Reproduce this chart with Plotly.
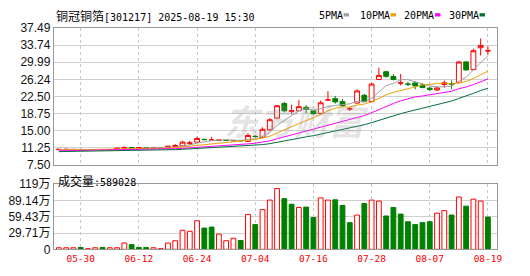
import plotly.graph_objects as go

# ---------------- data ----------------
dates = ["05-27", "05-28", "05-29", "05-30", "06-03", "06-04", "06-05", "06-06", "06-09", "06-10",
         "06-11", "06-12", "06-13", "06-16", "06-17", "06-18", "06-19", "06-20", "06-23", "06-24",
         "06-25", "06-26", "06-27", "06-30", "07-01", "07-02", "07-03", "07-04", "07-07", "07-08",
         "07-09", "07-10", "07-11", "07-14", "07-15", "07-16", "07-17", "07-18", "07-21", "07-22",
         "07-23", "07-24", "07-25", "07-28", "07-29", "07-30", "07-31", "08-01", "08-04", "08-05",
         "08-06", "08-07", "08-08", "08-11", "08-12", "08-13", "08-14", "08-15", "08-18", "08-19"]

opens = [10.85, 10.85, 10.88, 10.90, 10.85, 10.86, 10.88, 10.84, 10.90, 11.20,
         11.30, 11.20, 11.24, 11.18, 11.20, 11.22, 11.55, 11.70, 12.28, 12.50,
         13.10, 12.95, 12.90, 12.92, 12.80, 12.85, 12.65, 13.78, 13.55, 15.20,
         17.75, 20.93, 19.25, 19.35, 20.10, 19.35, 18.75, 21.70, 22.00, 21.35,
         19.75, 21.05, 22.75, 21.35, 26.20, 27.90, 26.85, 25.40, 25.20, 25.45,
         25.00, 24.30, 23.90, 25.10, 25.25, 25.50, 30.05, 28.35, 33.15, 32.45]
highs = [10.95, 10.95, 10.92, 10.92, 10.88, 10.90, 10.90, 10.88, 11.25, 11.55,
         11.40, 11.30, 11.26, 11.22, 11.24, 11.68, 12.05, 12.77, 12.77, 13.66,
         13.25, 13.66, 13.00, 12.95, 12.90, 12.90, 14.45, 14.00, 15.72, 17.75,
         20.60, 21.30, 20.70, 21.75, 20.60, 19.50, 21.60, 23.65, 22.60, 21.90,
         20.20, 24.05, 23.05, 25.50, 28.80, 28.10, 27.40, 27.40, 25.70, 25.75,
         25.40, 24.65, 24.70, 26.00, 26.00, 30.20, 30.20, 32.95, 35.20, 33.40]
lows = [10.80, 10.82, 10.84, 10.82, 10.83, 10.84, 10.82, 10.82, 10.88, 11.15,
        11.10, 11.18, 11.15, 11.15, 11.18, 11.18, 11.45, 11.60, 11.85, 12.40,
        12.90, 12.77, 12.80, 12.80, 12.75, 12.70, 12.60, 13.50, 13.50, 15.05,
        17.60, 19.06, 18.70, 19.25, 18.80, 18.50, 18.65, 21.60, 20.90, 20.10,
        19.30, 20.80, 21.25, 21.30, 26.10, 26.60, 26.00, 24.90, 24.75, 24.05,
        24.25, 23.70, 23.70, 24.40, 24.10, 25.40, 28.10, 28.30, 31.45, 31.65]
closes = [10.92, 10.93, 10.90, 10.85, 10.86, 10.88, 10.84, 10.86, 11.18, 11.30,
          11.20, 11.25, 11.18, 11.20, 11.22, 11.62, 11.75, 12.50, 12.30, 13.30,
          13.05, 12.97, 12.93, 12.85, 12.85, 12.80, 13.95, 13.72, 15.30, 17.40,
          20.45, 19.36, 19.35, 20.25, 19.65, 18.70, 21.10, 21.75, 21.30, 20.45,
          19.80, 23.70, 21.35, 25.20, 27.10, 26.90, 26.20, 25.45, 25.15, 24.80,
          24.45, 24.00, 24.35, 25.50, 25.20, 30.05, 28.30, 32.50, 33.65, 32.50]

ma5 = [10.85, 10.88, 10.90, 10.90, 10.89, 10.88, 10.87, 10.86, 10.92, 11.01,
       11.08, 11.16, 11.22, 11.23, 11.21, 11.29, 11.39, 11.66, 11.88, 12.29,
       12.58, 12.82, 12.91, 13.02, 12.93, 12.88, 13.08, 13.23, 13.72, 14.63,
       16.16, 17.25, 18.37, 19.36, 19.81, 19.46, 19.81, 20.29, 20.50, 20.66,
       20.88, 21.40, 21.32, 22.10, 23.43, 24.85, 25.35, 26.17, 26.16, 25.70,
       25.21, 24.77, 24.55, 24.62, 24.70, 25.82, 26.68, 28.31, 29.94, 31.40]
ma10 = [10.76, 10.78, 10.80, 10.82, 10.84, 10.85, 10.86, 10.87, 10.90, 10.95,
        10.98, 11.01, 11.04, 11.08, 11.11, 11.19, 11.28, 11.44, 11.55, 11.75,
        11.94, 12.11, 12.28, 12.45, 12.61, 12.73, 12.95, 13.07, 13.37, 13.78,
        14.52, 15.16, 15.80, 16.54, 17.22, 17.81, 18.53, 19.33, 19.93, 20.24,
        20.17, 20.61, 20.81, 21.30, 22.05, 22.87, 23.38, 23.75, 24.13, 24.57,
        25.03, 25.06, 25.36, 25.39, 25.20, 25.52, 25.73, 26.43, 27.28, 28.05]
ma20 = [10.60, 10.62, 10.64, 10.66, 10.68, 10.70, 10.72, 10.74, 10.77, 10.80,
        10.83, 10.86, 10.89, 10.92, 10.95, 11.00, 11.06, 11.14, 11.23, 11.35,
        11.46, 11.56, 11.66, 11.76, 11.86, 11.96, 12.11, 12.26, 12.46, 12.77,
        13.23, 13.64, 14.04, 14.50, 14.92, 15.27, 15.74, 16.20, 16.65, 17.01,
        17.35, 17.88, 18.30, 18.92, 19.63, 20.34, 20.95, 21.54, 22.03, 22.40,
        22.60, 22.83, 23.08, 23.35, 23.62, 24.19, 24.55, 25.09, 25.71, 26.31]
ma30 = [10.42, 10.44, 10.46, 10.48, 10.50, 10.52, 10.54, 10.56, 10.58, 10.61,
        10.64, 10.67, 10.70, 10.73, 10.76, 10.80, 10.85, 10.92, 11.00, 11.08,
        11.17, 11.26, 11.35, 11.44, 11.53, 11.62, 11.72, 11.82, 11.95, 12.16,
        12.48, 12.76, 13.04, 13.36, 13.65, 13.91, 14.25, 14.61, 14.95, 15.26,
        15.54, 15.96, 16.30, 16.76, 17.29, 17.80, 18.28, 18.72, 19.14, 19.53,
        19.91, 20.28, 20.66, 21.08, 21.49, 22.06, 22.54, 23.17, 23.78, 24.28]

# volume in units of 万 (10,000 lots)
volumes = [2.9, 2.9, 2.9, 3.5, 1.2, 2.9, 3.5, 2.9, 2.9, 11.6,
           8.7, 3.5, 3.5, 2.9, 1.2, 11.6, 15.7, 34.8, 33.0, 52.2,
           38.8, 40.6, 27.8, 15.7, 20.3, 16.2, 63.8, 45.2, 72.5, 89.9,
           111.0, 92.5, 82.3, 76.5, 77.1, 58.0, 93.9, 89.9, 90.4, 80.0,
           48.7, 62.6, 83.5, 89.9, 88.1, 60.9, 76.5, 64.3, 50.4, 45.2,
           48.7, 50.4, 66.1, 70.7, 62.6, 95.6, 78.8, 91.6, 88.1, 58.9028]
vol_up = [1, 1, 1, 0, 1, 1, 0, 1, 1, 1,
          0, 0, 0, 1, 1, 1, 1, 1, 1, 1,
          0, 0, 1, 1, 1, 0, 1, 0, 1, 1,
          1, 0, 0, 1, 0, 0, 1, 1, 0, 0,
          0, 1, 0, 1, 1, 0, 0, 0, 0, 0,
          0, 0, 1, 1, 0, 1, 0, 1, 1, 0]

price_ticks = [7.50, 11.25, 15.00, 18.75, 22.50, 26.24, 29.99, 33.74, 37.49]
vol_ticks = [0, 29.71, 59.43, 89.14, 118.86]
vol_tick_text = ["0", "29.71万", "59.43万", "89.14万", "119万"]
x_ticks = ["05-30", "06-12", "06-24", "07-04", "07-16", "07-28", "08-07", "08-19"]

title_name = "铜冠铜箔"
title_rest = "[301217] 2025-08-19 15:30"
ma_names = ["5PMA", "10PMA", "20PMA", "30PMA"]

# ---------------- styles ----------------
RED = "#ff0000"
GREEN = "#008000"
MA_COLORS = ["#a0a0a0", "#f0a000", "#ff00ff", "#00703a"]
FRAME = "#999999"
GRID = "#d0d0d0"
W, H = 530, 276
X0, X1 = 54.5, 502.5
PY0, PY1 = 22.0, 166.4
VY0, VY1 = 186.7, 255.3

def px(x):
    return x / W

def py(y):
    return 1 - y / H

n = len(dates)
up = [i for i in range(n) if closes[i] >= opens[i]]
dn = [i for i in range(n) if closes[i] < opens[i]]

fig = go.Figure()

def sub(arr, idx):
    return [arr[i] for i in idx]

fig.add_trace(go.Candlestick(
    x=sub(dates, up), open=sub(opens, up), high=sub(highs, up), low=sub(lows, up), close=sub(closes, up),
    increasing=dict(line=dict(color=RED, width=1), fillcolor="white"),
    decreasing=dict(line=dict(color=RED, width=1), fillcolor="white"),
    xaxis="x", yaxis="y", name="up"))
fig.add_trace(go.Candlestick(
    x=sub(dates, dn), open=sub(opens, dn), high=sub(highs, dn), low=sub(lows, dn), close=sub(closes, dn),
    increasing=dict(line=dict(color=GREEN, width=1), fillcolor=GREEN),
    decreasing=dict(line=dict(color=GREEN, width=1), fillcolor=GREEN),
    xaxis="x", yaxis="y", name="down"))

for name, vals, col in zip(ma_names, [ma5, ma10, ma20, ma30], MA_COLORS):
    fig.add_trace(go.Scatter(x=dates, y=vals, mode="lines", line=dict(color=col, width=1),
                             name=name, xaxis="x", yaxis="y"))

fig.add_trace(go.Bar(
    x=dates, y=volumes, width=0.66,
    marker=dict(color=["white" if u else GREEN for u in vol_up],
                line=dict(color=[RED if u else GREEN for u in vol_up], width=1)),
    xaxis="x2", yaxis="y2", name="vol"))

common_x = dict(type="category", categoryorder="array", categoryarray=dates,
                range=[-0.69, n - 1 + 1.22], tickvals=x_ticks, showgrid=True,
                gridcolor="#c8c8c8", griddash="3px,3px", gridwidth=1,
                showline=True, mirror=True, linecolor=FRAME, linewidth=1,
                ticks="", zeroline=False, fixedrange=True)

fig.update_layout(
    width=W, height=H, margin=dict(l=0, r=0, t=0, b=0), autosize=False,
    paper_bgcolor="white", plot_bgcolor="white", showlegend=False,
    boxgap=0.3, boxgroupgap=0.05, boxmode="overlay",
    xaxis=dict(domain=[px(X0), px(X1)], anchor="y", showticklabels=False,
               rangeslider=dict(visible=False), **common_x),
    yaxis=dict(domain=[py(PY1), py(PY0)], anchor="x", range=[7.5, 37.49],
               tickvals=price_ticks, ticktext=["%.2f" % v for v in price_ticks],
               showgrid=True, gridcolor=GRID, gridwidth=1, zeroline=False,
               showline=True, mirror=True, linecolor=FRAME, linewidth=1, ticks="",
               tickfont=dict(family="Liberation Sans, Arial", size=12, color="#111111")),
    xaxis2=dict(domain=[px(X0), px(X1)], anchor="y2", showticklabels=True,
                rangeslider=dict(visible=False),
                tickfont=dict(family="DejaVu Sans Mono", size=9.5, color=RED), **common_x),
    yaxis2=dict(domain=[py(VY1), py(VY0)], anchor="x2", range=[0, vol_ticks[-1]],
                tickvals=vol_ticks, ticktext=vol_tick_text,
                showgrid=True, gridcolor=GRID, gridwidth=1, zeroline=False,
                showline=True, mirror=True, linecolor=FRAME, linewidth=1, ticks="",
                tickfont=dict(family="Liberation Sans, Arial, Noto Sans CJK SC", size=12, color="#111111")),
)

# watermark
fig.add_annotation(x=px(300), y=py(90), xref="paper", yref="paper", showarrow=False,
                   text="<b><i>东方财富</i></b>", font=dict(family="Noto Sans CJK SC", size=35,
                                                        color="rgba(150,150,150,0.26)"))

# title
fig.add_annotation(x=px(55), y=py(9), xref="paper", yref="paper", xanchor="left", yanchor="middle",
                   showarrow=False,
                   text="<span style='font-family:Noto Sans CJK SC;font-size:12px'>" + title_name + "</span>" + title_rest,
                   font=dict(family="DejaVu Sans Mono, Noto Sans CJK SC", size=10, color="#000000"))

# MA legend
leg_text_x = [321, 362, 407, 452]
leg_box_x = [347.5, 395, 440, 485]
for name, col, tx, bx in zip(ma_names, MA_COLORS, leg_text_x, leg_box_x):
    fig.add_annotation(x=px(tx), y=py(9), xref="paper", yref="paper", xanchor="left", yanchor="middle",
                       showarrow=False, text=name,
                       font=dict(family="DejaVu Sans Mono", size=10, color="#000000"))
    fig.add_shape(type="rect", xref="paper", yref="paper", x0=px(bx), x1=px(bx + 5.5),
                  y0=py(10), y1=py(6.5), fillcolor=col, line=dict(width=0))

# volume label
fig.add_annotation(x=px(57), y=py(183), xref="paper", yref="paper", xanchor="left", yanchor="middle",
                   showarrow=False,
                   text="<span style='font-family:Noto Sans CJK SC;font-size:12px'>成交量</span>:" + str(int(round(volumes[-1] * 10000))),
                   font=dict(family="DejaVu Sans Mono, Noto Sans CJK SC", size=10, color="#000000"))

fig.write_html("out.html")
